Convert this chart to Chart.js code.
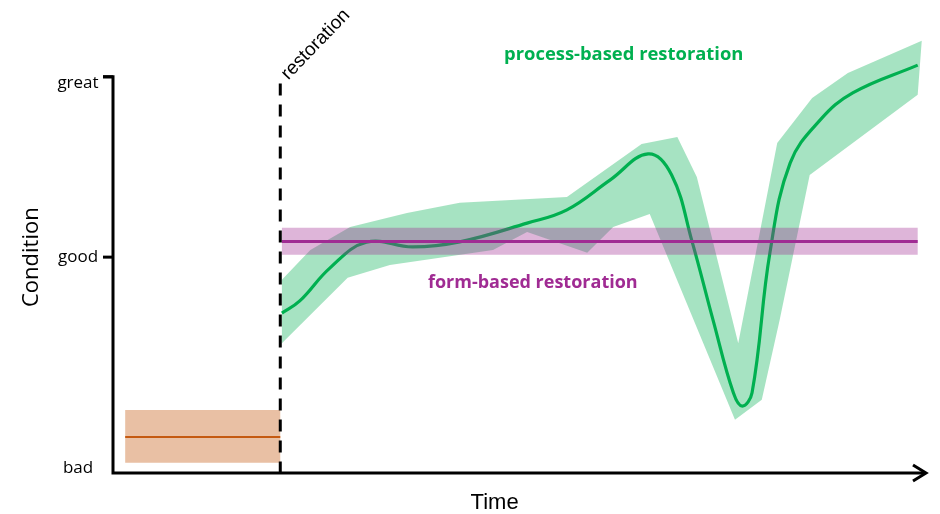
<!DOCTYPE html>
<html>
<head>
<meta charset="utf-8">
<script src="https://cdn.jsdelivr.net/npm/chart.js@4.4.1/dist/chart.umd.min.js"></script>
<style>
  html, body { margin: 0; padding: 0; background: #fff; }
  canvas { display: block; }
</style>
</head>
<body>
<canvas id="chart" width="940" height="514"></canvas>
<script>
// time axis runs 0..100, condition axis 0 (bottom) .. 112
const yTickLabels = ['great', 'good', 'bad'];
const yTickValues = [101.3, 55.2, 1.3];
const yTickMarks = [true, true, false];

const restorationTime = 20.6;
const restorationTop = 99.6;

// process-based restoration (green)
const processLine = [
  [20.8, 40.9], [23.0, 44.0], [26.7, 52.4], [31.2, 59.0], [36.9, 57.8],
  [42.7, 59.1], [51.0, 63.9], [55.9, 67.3], [61.2, 74.9], [65.9, 81.6],
  [68.8, 76.2], [71.3, 59.3], [73.9, 39.1], [76.4, 20.5], [77.5, 17.1],
  [78.7, 20.5], [80.9, 56.3], [83.4, 79.3], [87.1, 90.3], [91.1, 97.2],
  [99.1, 104.3]
];
const processUpper = [
  [20.8, 49.4], [24.3, 57.0], [29.2, 62.9], [36.2, 66.5], [42.7, 69.1],
  [55.9, 70.6], [65.1, 84.1], [69.5, 85.9], [71.9, 75.7], [77.0, 33.2],
  [81.8, 84.4], [86.1, 95.9], [90.5, 102.3], [99.6, 110.5]
];
const processLower = [
  [20.8, 33.2], [28.9, 49.9], [34.1, 53.2], [46.8, 57.0], [51.0, 61.6],
  [58.4, 56.3], [61.6, 62.9], [66.1, 66.2], [76.6, 13.6], [79.9, 18.7],
  [82.1, 39.1], [85.8, 76.2], [99.1, 96.7]
];

// form-based restoration (purple)
const formStart = 20.8, formEnd = 99.1;
const formValue = 59.2, formLow = 55.8, formHigh = 62.7;

// before restoration (orange)
const preStart = 1.5, preEnd = 20.6;
const preValue = 9.2, preLow = 2.6, preHigh = 16.1;

const toPts = arr => arr.map(p => ({ x: p[0], y: p[1] }));
const boxPts = (x0, x1, lo, hi) => [
  { x: x0, y: hi }, { x: x1, y: hi }, { x: x1, y: lo }, { x: x0, y: lo }
];

const GREEN = '#00B050';
const PURPLE = '#A02B93';
const ORANGE = '#C55A11';

// draws the axes, dashed line and texts
const sketchPlugin = {
  id: 'sketch',
  afterDatasetsDraw(chart) {
    const ctx = chart.ctx;
    const x = chart.scales.x, y = chart.scales.y;
    const x0 = x.getPixelForValue(0);
    const y0 = y.getPixelForValue(0);
    const xEnd = x.getPixelForValue(100);
    const yTop = y.getPixelForValue(yTickValues[0]);

    ctx.save();
    // dashed restoration line
    const rx = x.getPixelForValue(restorationTime);
    ctx.strokeStyle = '#000';
    ctx.lineWidth = 3;
    ctx.setLineDash([12, 9]);
    ctx.beginPath();
    ctx.moveTo(rx, y.getPixelForValue(restorationTop));
    ctx.lineTo(rx, y0);
    ctx.stroke();
    ctx.setLineDash([]);

    // axes
    ctx.lineJoin = 'miter';
    ctx.beginPath();
    ctx.moveTo(x0 - 10, yTop);
    ctx.lineTo(x0, yTop);
    ctx.lineTo(x0, y0);
    ctx.lineTo(xEnd, y0);
    ctx.stroke();
    // arrow head
    ctx.beginPath();
    ctx.moveTo(xEnd - 12, y0 - 8);
    ctx.lineTo(xEnd + 1, y0);
    ctx.lineTo(xEnd - 12, y0 + 8);
    ctx.stroke();

    // y ticks
    ctx.fillStyle = '#000';
    ctx.font = '17px "Open Sans"';
    ctx.textAlign = 'center';
    ctx.textBaseline = 'middle';
    yTickValues.forEach((v, i) => {
      const py = y.getPixelForValue(v);
      if (yTickMarks[i]) {
        ctx.beginPath();
        ctx.moveTo(x0 - 10, py);
        ctx.lineTo(x0, py);
        ctx.stroke();
      }
      const dy = i === 0 ? 6 : 0;
      ctx.fillText(yTickLabels[i], x0 - 35, py + dy);
    });

    // axis titles
    ctx.font = '22px "Liberation Sans"';
    ctx.fillText('Time', x.getPixelForValue(47), y0 + 30);
    ctx.save();
    ctx.translate(32, y.getPixelForValue(55.2));
    ctx.rotate(-Math.PI / 2);
    ctx.font = '22px "Open Sans"';
    ctx.fillText('Condition', 0, 0);
    ctx.restore();

    // restoration label
    ctx.save();
    ctx.translate(rx + 8, y.getPixelForValue(restorationTop) - 3);
    ctx.rotate(-46 * Math.PI / 180);
    ctx.font = '19px "Liberation Sans"';
    ctx.textAlign = 'left';
    ctx.textBaseline = 'alphabetic';
    ctx.fillText('restoration', 0, 0);
    ctx.restore();

    // series labels
    ctx.font = 'bold 18.4px "Open Sans"';
    ctx.fillStyle = GREEN;
    ctx.fillText('process-based restoration', x.getPixelForValue(62.9), y.getPixelForValue(107.0));
    ctx.font = 'bold 18px "Open Sans"';
    ctx.fillStyle = PURPLE;
    ctx.fillText('form-based restoration', x.getPixelForValue(51.7), y.getPixelForValue(48.6));
    ctx.restore();
  }
};

const bandStyle = color => ({
  backgroundColor: color,
  borderWidth: 0,
  pointRadius: 0,
  fill: 'shape',
  tension: 0
});

new Chart(document.getElementById('chart'), {
  type: 'line',
  data: {
    datasets: [
      // first dataset is drawn on top
      {
        label: 'form-based restoration',
        data: [{ x: formStart, y: formValue }, { x: formEnd, y: formValue }],
        borderColor: PURPLE, borderWidth: 3, pointRadius: 0, fill: false
      },
      Object.assign({ label: 'form band', data: boxPts(formStart, formEnd, formLow, formHigh) },
        bandStyle('rgba(160, 43, 147, 0.35)')),
      {
        label: 'process-based restoration',
        data: toPts(processLine),
        borderColor: GREEN, borderWidth: 3.2, pointRadius: 0, fill: false,
        tension: 0.4
      },
      Object.assign({ label: 'process band', data: toPts(processUpper).concat(toPts(processLower).reverse()) },
        bandStyle('rgba(0, 176, 80, 0.35)')),
      {
        label: 'before',
        data: [{ x: preStart, y: preValue }, { x: preEnd, y: preValue }],
        borderColor: ORANGE, borderWidth: 2, pointRadius: 0, fill: false
      },
      Object.assign({ label: 'before band', data: boxPts(preStart, preEnd, preLow, preHigh) },
        bandStyle('rgba(197, 90, 17, 0.38)'))
    ]
  },
  options: {
    responsive: false,
    animation: false,
    devicePixelRatio: 1,
    layout: { padding: { left: 113, right: 15, top: 35, bottom: 41 } },
    scales: {
      x: { type: 'linear', min: 0, max: 100, display: false },
      y: { type: 'linear', min: 0, max: 112, display: false }
    },
    plugins: {
      legend: { display: false },
      tooltip: { enabled: false }
    }
  },
  plugins: [sketchPlugin]
});
</script>
</body>
</html>
